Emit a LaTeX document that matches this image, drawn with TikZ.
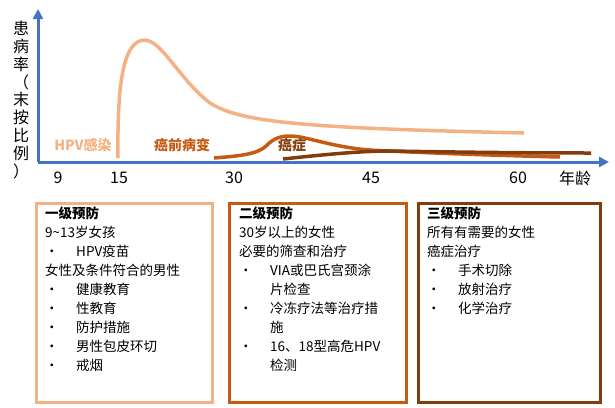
\documentclass[tikz,border=0pt]{standalone}
\usepackage{fontspec}
\setmainfont{Noto Sans CJK SC}
\usetikzlibrary{arrows.meta}
\definecolor{c1}{HTML}{F4B183}
\definecolor{c2}{HTML}{C55A11}
\definecolor{c3}{HTML}{843C0C}
\definecolor{ax}{HTML}{4472C4}
\newcommand{\bl}[1]{\makebox[31pt][l]{•}#1}
\newcommand{\cn}[1]{\hspace*{31pt}#1}
\begin{document}
\begin{tikzpicture}[x=1pt,y=-1pt,
  axis/.style={ax,line width=3pt,-{Triangle[length=10pt,width=10pt]}},
  curve/.style={line width=3.5pt},
  tick/.style={font=\fontsize{16}{18}\selectfont,anchor=center},
  box/.style={line width=3pt},
  txt/.style={font=\fontsize{13.5}{19}\selectfont,anchor=north west,align=left,inner sep=0pt},
  lbl/.style={font=\fontsize{14}{16}\selectfont\bfseries,anchor=center}]
\useasboundingbox (0,0) rectangle (615,407);
\coordinate (o) at (38,162);
\coordinate (yt) at (38,9);
\coordinate (xt) at (609,162);
\draw[axis] (o) -- (yt);
\draw[axis] (o) -- (xt);
\node[font=\fontsize{16}{17.8}\selectfont,align=center,inner sep=0pt] (ylab) at (21,100) {患\\病\\率\\（\\末\\按\\比\\例\\）};
% curves
\draw[curve,c1] (118,158) .. controls (117,80) and (124,40) .. (145,40)
  .. controls (162,41) and (180,80) .. (210,103)
  .. controls (240,122) and (300,128) .. (524,133);
\draw[curve,c2] (214,158) .. controls (240,156) and (258,154) .. (266,146)
  .. controls (274,138) and (282,134) .. (300,137)
  .. controls (325,142) and (345,150) .. (390,151)
  .. controls (450,154) and (520,156) .. (560,157);
\draw[curve,c3] (283,159) .. controls (320,155) and (360,151) .. (389,151)
  .. controls (450,152) and (520,153) .. (591,153);
\node[lbl,c1] (l1) at (83,145) {HPV感染};
\node[lbl,c2] (l2) at (182,145) {癌前病变};
\node[lbl,c3] (l3) at (292,145) {癌症};
\node[tick] (t9) at (58,178) {9};
\node[tick] (t15) at (119,178) {15};
\node[tick] (t30) at (234,178) {30};
\node[tick] (t45) at (371,178) {45};
\node[tick] (t60) at (518,178) {60};
\node[tick] (ta) at (575,178) {年龄};
% boxes
\draw[box,c1] (36,203) rectangle (212,402);
\draw[box,c2] (229,203) rectangle (406,402);
\draw[box,c3] (418,203) rectangle (600,402);
\node[txt] (b1) at (45,207) {\textbf{一级预防}\\9\textasciitilde13岁女孩\\\bl{HPV疫苗}\\女性及条件符合的男性\\\bl{健康教育}\\\bl{性教育}\\\bl{防护措施}\\\bl{男性包皮环切}\\\bl{戒烟}};
\node[txt] (b2) at (239,207) {\textbf{二级预防}\\30岁以上的女性\\必要的筛查和治疗\\\bl{VIA或巴氏宫颈涂}\\\cn{片检查}\\\bl{冷冻疗法等治疗措}\\\cn{施}\\\bl{16、18型高危HPV}\\\cn{检测}};
\node[txt] (b3) at (427,207) {\textbf{三级预防}\\所有有需要的女性\\癌症治疗\\\bl{手术切除}\\\bl{放射治疗}\\\bl{化学治疗}};
\end{tikzpicture}
\end{document}
